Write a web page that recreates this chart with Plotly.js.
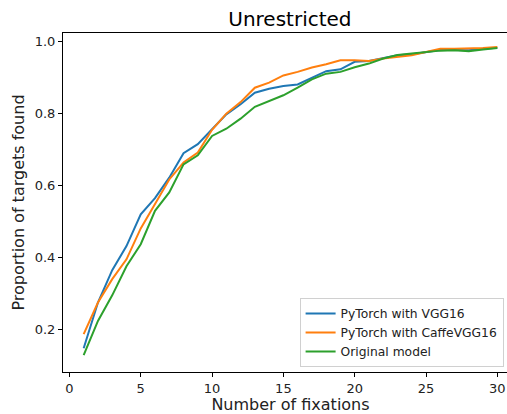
<!DOCTYPE html>
<html>
<head>
<meta charset="utf-8">
<script src="https://cdn.plot.ly/plotly-3.0.1.min.js"></script>
<style>
html,body{margin:0;padding:0;overflow:hidden;background:#fff;}
#chart{width:530px;height:414px;}
</style>
</head>
<body>
<div id="chart"></div>
<script>
const fixations = [1,2,3,4,5,6,7,8,9,10,11,12,13,14,15,16,17,18,19,20,21,22,23,24,25,26,27,28,29,30];
const vgg16 = [0.148,0.275,0.365,0.432,0.520,0.565,0.622,0.690,0.715,0.758,0.798,0.826,0.858,0.869,0.877,0.881,0.900,0.918,0.923,0.944,0.946,0.955,0.962,0.965,0.971,0.977,0.977,0.976,0.980,0.983];
const caffeVgg16 = [0.187,0.275,0.340,0.395,0.481,0.548,0.617,0.664,0.692,0.755,0.800,0.832,0.872,0.886,0.906,0.916,0.928,0.937,0.948,0.948,0.946,0.953,0.958,0.962,0.971,0.980,0.980,0.980,0.982,0.985];
const original = [0.129,0.224,0.295,0.376,0.437,0.530,0.581,0.659,0.684,0.738,0.758,0.786,0.819,0.835,0.851,0.872,0.895,0.911,0.916,0.929,0.939,0.953,0.963,0.967,0.971,0.975,0.976,0.973,0.978,0.982];
const seriesNames = ['PyTorch with VGG16','PyTorch with CaffeVGG16','Original model'];
const colors = ['#1f77b4','#ff7f0e','#2ca02c'];
const xTicks = [0,5,10,15,20,25,30];
const yTicks = [0.2,0.4,0.6,0.8,1.0];

const font = {family:'DejaVu Sans', size:13, color:'#000'};
const traces = [vgg16, caffeVgg16, original].map((ys,i)=>({
  x: fixations, y: ys, type:'scatter', mode:'lines', name: seriesNames[i],
  line:{color:colors[i], width:2}
}));

const axisCommon = {
  showline:true, mirror:true, linecolor:'#000', linewidth:1,
  showgrid:false, zeroline:false, ticks:'outside', ticklen:4, tickwidth:1, tickcolor:'#000',
  tickfont:{family:'DejaVu Sans', size:13, color:'#222'}
};

const layout = {
  width:530, height:414,
  margin:{l:63, r:12, t:33, b:42},
  paper_bgcolor:'#fff', plot_bgcolor:'#fff',
  font: font,
  title:{text:'Unrestricted', font:{family:'DejaVu Sans', size:20, color:'#000'}, x:0.547, xanchor:'center', y:0.954, yanchor:'middle'},
  xaxis: Object.assign({}, axisCommon, {
    range:[-0.45,31.45], tickvals:xTicks, ticktext:xTicks.map(String),
    title:{text:'Number of fixations', font:{family:'DejaVu Sans', size:16, color:'#222'}, standoff:4}
  }),
  yaxis: Object.assign({}, axisCommon, {
    range:[0.082,1.024], tickvals:yTicks, ticktext:yTicks.map(v=>v.toFixed(1)),
    title:{text:'Proportion of targets found', font:{family:'DejaVu Sans', size:16, color:'#222'}, standoff:6}
  }),
  showlegend:true,
  legend:{
    x:0.52, y:0.218, xanchor:'left', yanchor:'top',
    bgcolor:'rgba(255,255,255,0.8)', bordercolor:'#d0d0d0', borderwidth:1,
    font:{family:'DejaVu Sans', size:12.3, color:'#222'},
    tracegroupgap:0, itemwidth:30
  }
};

Plotly.newPlot('chart', traces, layout, {displayModeBar:false, staticPlot:true});
</script>
</body>
</html>
